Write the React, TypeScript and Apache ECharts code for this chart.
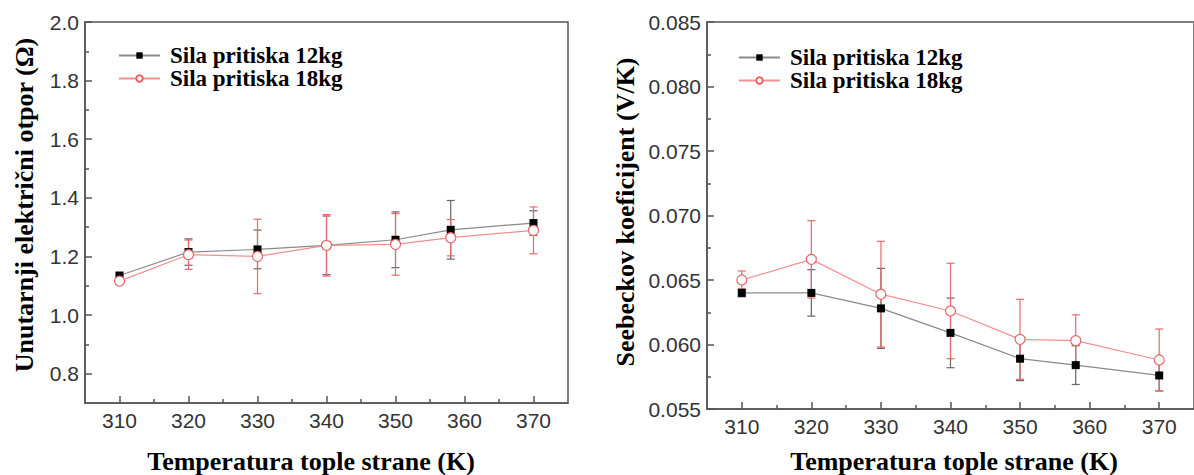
import React, { useEffect, useRef } from "react";
import * as echarts from "echarts";

const temps = [310, 320, 330, 340, 350, 358, 370];
const xMajor = [310, 320, 330, 340, 350, 360, 370];
const xMinor = [315, 325, 335, 345, 355, 365];

const name12 = "Sila pritiska 12kg";
const name18 = "Sila pritiska 18kg";

// Left: internal electrical resistance (Ω)
const res12 = [1.135, 1.215, 1.224, 1.238, 1.257, 1.291, 1.314];
const res12Err = [0.006, 0.045, 0.066, 0.1, 0.095, 0.1, 0.042];
const res18 = [1.116, 1.206, 1.2, 1.238, 1.241, 1.264, 1.289];
const res18Err = [0.006, 0.05, 0.127, 0.105, 0.105, 0.062, 0.08];
const resMajor = [0.8, 1.0, 1.2, 1.4, 1.6, 1.8, 2.0];
const resMinor = [0.9, 1.1, 1.3, 1.5, 1.7, 1.9];

// Right: Seebeck coefficient (V/K)
const see12 = [0.064, 0.064, 0.0628, 0.0609, 0.0589, 0.0584, 0.0576];
const see12Err = [0.0003, 0.0018, 0.0031, 0.0027, 0.0017, 0.0015, 0.0012];
const see18 = [0.065, 0.0666, 0.0639, 0.0626, 0.0604, 0.0603, 0.0588];
const see18Err = [0.0007, 0.003, 0.0041, 0.0037, 0.0031, 0.002, 0.0024];
const seeMajor = [0.055, 0.06, 0.065, 0.07, 0.075, 0.08, 0.085];
const seeMinor = [0.0575, 0.0625, 0.0675, 0.0725, 0.0775, 0.0825];

const xTitle = "Temperatura tople strane (K)";
const yTitleLeft = "Unutarnji električni otpor (Ω)";
const yTitleRight = "Seebeckov koeficijent (V/K)";

const BLACK_LINE = "#8a8a8a";
const BLACK_ERR = "#666666";
const RED_LINE = "#f29090";
const RED_ERR = "#ea6a6a";
const RED_MARK = "#e86666";
const AXIS = "#555555";
const SERIF = "'Liberation Serif', 'Times New Roman', serif";
const SANS = "'Liberation Sans', Arial, sans-serif";

function App() {
  const ref = useRef<HTMLDivElement>(null);

  useEffect(() => {
    if (!ref.current) return;
    const chart = echarts.init(ref.current, undefined, { renderer: "svg" });

    const mkX = (gridIndex: number, minor: boolean) => ({
      type: "value",
      gridIndex,
      min: 305,
      max: 375,
      position: "bottom",
      axisLine: minor ? { show: false } : { show: true, lineStyle: { color: AXIS, width: 1.5 } },
      axisTick: {
        show: true,
        inside: true,
        length: minor ? 4 : 7,
        customValues: minor ? xMinor : xMajor,
        lineStyle: { color: AXIS, width: 1.5 },
      },
      axisLabel: minor
        ? { show: false }
        : {
            show: true,
            customValues: xMajor,
            color: "#333",
            fontFamily: SANS,
            fontSize: 21,
            margin: 7,
            formatter: (v: number) => String(Math.round(v)),
          },
      splitLine: { show: false },
    });

    const mkY = (
      gridIndex: number,
      minor: boolean,
      min: number,
      max: number,
      majors: number[],
      minors: number[],
      digits: number
    ) => ({
      type: "value",
      gridIndex,
      min,
      max,
      position: "left",
      axisLine: minor ? { show: false } : { show: true, lineStyle: { color: AXIS, width: 1.5 } },
      axisTick: {
        show: true,
        inside: true,
        length: minor ? 4 : 7,
        customValues: minor ? minors : majors,
        lineStyle: { color: AXIS, width: 1.5 },
      },
      axisLabel: minor
        ? { show: false }
        : {
            show: true,
            customValues: majors,
            color: "#333",
            fontFamily: SANS,
            fontSize: 21,
            margin: 6,
            formatter: (v: number) => v.toFixed(digits),
          },
      splitLine: { show: false },
    });

    const errData = (vals: number[], errs: number[]) =>
      temps.map((t, i) => [t, vals[i] - errs[i], vals[i] + errs[i]]);

    const errSeries = (
      name: string,
      xAxisIndex: number,
      yAxisIndex: number,
      vals: number[],
      errs: number[],
      color: string
    ) => ({
      type: "custom",
      name,
      xAxisIndex,
      yAxisIndex,
      silent: true,
      z: 1,
      encode: { x: 0, y: [1, 2] },
      data: errData(vals, errs),
      renderItem: (params: any, api: any) => {
        const x = api.value(0);
        const lo = api.coord([x, api.value(1)]);
        const hi = api.coord([x, api.value(2)]);
        const hw = 4;
        const style = { stroke: color, lineWidth: 1.2 };
        return {
          type: "group",
          children: [
            { type: "line", shape: { x1: lo[0], y1: lo[1], x2: hi[0], y2: hi[1] }, style },
            { type: "line", shape: { x1: lo[0] - hw, y1: lo[1], x2: lo[0] + hw, y2: lo[1] }, style },
            { type: "line", shape: { x1: hi[0] - hw, y1: hi[1], x2: hi[0] + hw, y2: hi[1] }, style },
          ],
        };
      },
    });

    const line12 = (xAxisIndex: number, yAxisIndex: number, vals: number[]) => ({
      type: "line",
      name: name12,
      xAxisIndex,
      yAxisIndex,
      z: 3,
      data: temps.map((t, i) => [t, vals[i]]),
      symbol: "rect",
      symbolSize: 8,
      lineStyle: { color: BLACK_LINE, width: 1.2 },
      itemStyle: { color: "#000", borderColor: "#000", borderWidth: 0 },
    });

    const line18 = (xAxisIndex: number, yAxisIndex: number, vals: number[]) => ({
      type: "line",
      name: name18,
      xAxisIndex,
      yAxisIndex,
      z: 4,
      data: temps.map((t, i) => [t, vals[i]]),
      symbol: "circle",
      symbolSize: 10,
      showAllSymbol: true,
      lineStyle: { color: RED_LINE, width: 1.2 },
      itemStyle: { color: "#fff", borderColor: RED_MARK, borderWidth: 1.2 },
    });

    const legendCommon = {
      orient: "vertical",
      padding: 0,
      itemGap: 0,
      itemWidth: 41,
      itemHeight: 8,
      selectedMode: false,
      textStyle: {
        fontFamily: SERIF,
        fontWeight: "bold",
        fontSize: 23,
        color: "#000",
        padding: [0, 0, 0, 5],
      },
      data: [name12, name18],
    };

    const titleStyle = {
      fontFamily: SERIF,
      fontWeight: "bold",
      fontSize: 26,
      fill: "#000",
    };

    chart.setOption({
      animation: false,
      backgroundColor: "#fff",
      grid: [
        { left: 85, top: 22, width: 483, height: 381, show: true, borderColor: AXIS, borderWidth: 1.5, backgroundColor: "transparent" },
        { left: 707, top: 22, width: 490, height: 387, show: true, borderColor: AXIS, borderWidth: 1.5, backgroundColor: "transparent" },
      ],
      legend: [
        { ...legendCommon, left: 118, top: 44 },
        { ...legendCommon, left: 738, top: 46 },
      ],
      xAxis: [mkX(0, false), mkX(0, true), mkX(1, false), mkX(1, true)],
      yAxis: [
        mkY(0, false, 0.7, 2.0, resMajor, resMinor, 1),
        mkY(0, true, 0.7, 2.0, resMajor, resMinor, 1),
        mkY(1, false, 0.055, 0.085, seeMajor, seeMinor, 3),
        mkY(1, true, 0.055, 0.085, seeMajor, seeMinor, 3),
      ],
      series: [
        errSeries("err12a", 0, 0, res12, res12Err, BLACK_ERR),
        errSeries("err18a", 0, 0, res18, res18Err, RED_ERR),
        line12(0, 0, res12),
        line18(0, 0, res18),
        errSeries("err12b", 2, 2, see12, see12Err, BLACK_ERR),
        errSeries("err18b", 2, 2, see18, see18Err, RED_ERR),
        line12(2, 2, see12),
        line18(2, 2, see18),
      ],
      graphic: [
        {
          type: "text",
          x: 24,
          y: 205,
          rotation: Math.PI / 2,
          style: { ...titleStyle, text: yTitleLeft, textAlign: "center", textVerticalAlign: "middle" },
        },
        {
          type: "text",
          x: 625,
          y: 212,
          rotation: Math.PI / 2,
          style: { ...titleStyle, text: yTitleRight, textAlign: "center", textVerticalAlign: "middle" },
        },
        {
          type: "text",
          x: 311,
          y: 461,
          style: { ...titleStyle, text: xTitle, textAlign: "center", textVerticalAlign: "middle" },
        },
        {
          type: "text",
          x: 954,
          y: 461,
          style: { ...titleStyle, text: xTitle, textAlign: "center", textVerticalAlign: "middle" },
        },
      ],
    });

    return () => chart.dispose();
  }, []);

  return (
    <div
      ref={ref}
      style={{ position: "absolute", left: 0, top: 0, width: 1194, height: 475, background: "#fff" }}
    />
  );
}

export default App;
